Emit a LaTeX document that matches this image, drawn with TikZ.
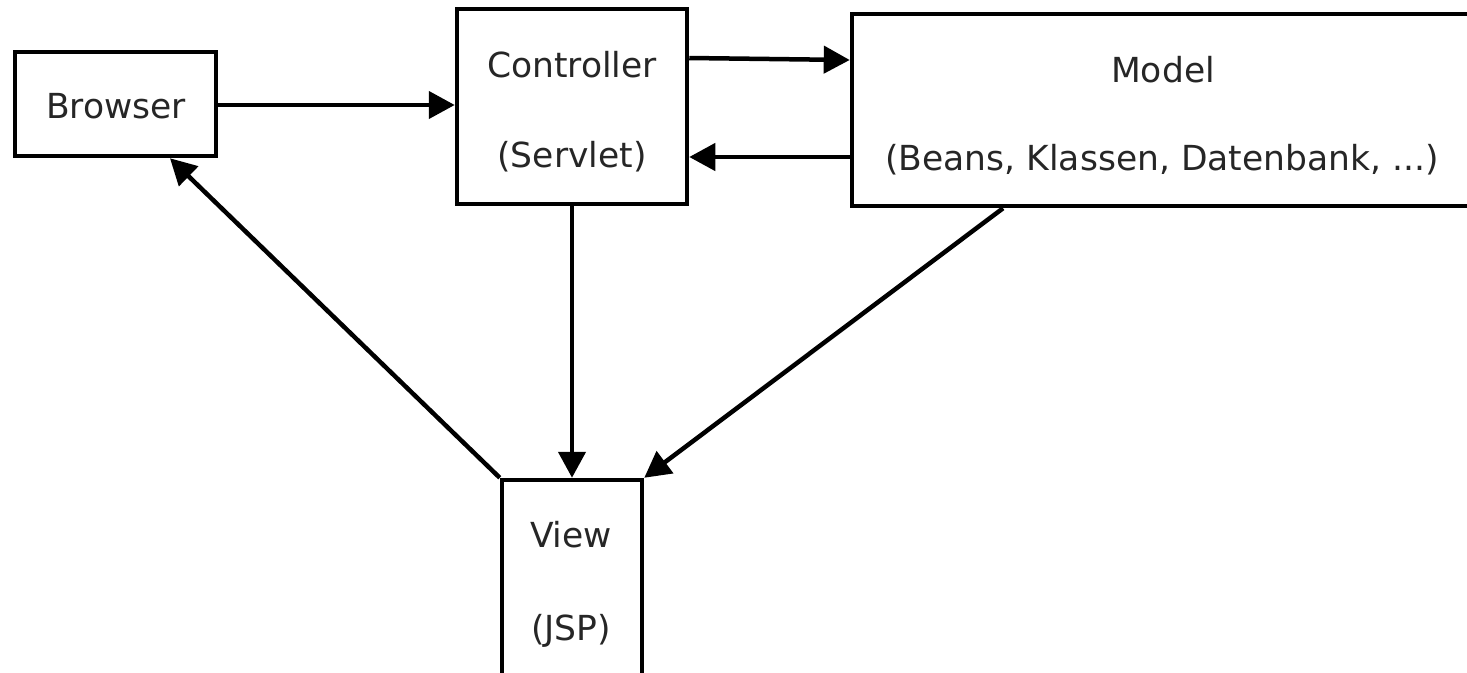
\documentclass[tikz,border=0pt]{standalone}
\usepackage{fontspec}
\setmainfont{DejaVu Sans}
\usetikzlibrary{arrows.meta}
\begin{document}
\begin{tikzpicture}[x=1pt,y=-1pt,
  box/.style={draw=black,line width=4.5pt,rectangle,inner sep=0pt,fill=white},
  lbl/.style={anchor=base,inner sep=0pt,font=\fontsize{34.5}{40}\selectfont,text=black!85},
  flow/.style={line width=4.5pt,-{Triangle[length=26pt,width=27pt]}}]
\useasboundingbox[fill=white] (0,0) rectangle (1467,672);

% boxes
\node[box,minimum width=201pt,minimum height=104pt] (browser) at (115.5,104) {};
\node[box,minimum width=230pt,minimum height=195pt] (controller) at (572,106.5) {};
\node[box,minimum width=640pt,minimum height=192pt] (model) at (1172,110) {};
\node[box,minimum width=140pt,minimum height=220pt] (view) at (572,590) {};

% labels
\node[lbl] (tBrowser) at (116,118) {Browser};
\node[lbl] (tController) at (572,77) {Controller};
\node[lbl] (tServlet) at (572,167) {(Servlet)};
\node[lbl] (tModel) at (1163,82) {Model};
\node[lbl] (tBeans) at (1162,170) {(Beans, Klassen, Datenbank, ...)};
\node[lbl] (tView) at (571,547) {View};
\node[lbl] (tJSP) at (571,640) {(JSP)};

% connectors
\draw[flow] (browser.east |- 0,105) -- (controller.west |- 0,105);
\draw[flow] (controller.east |- 0,58) -- (model.west |- 0,60);
\draw[flow] (model.west |- 0,157) -- (controller.east |- 0,157);
\draw[flow] (controller.south) -- (view.north);
\draw[flow] (model.south -| 1003,0) -- (view.north east);
\draw[flow] (view.north west) -- (browser.south -| 170,0);
\end{tikzpicture}
\end{document}
